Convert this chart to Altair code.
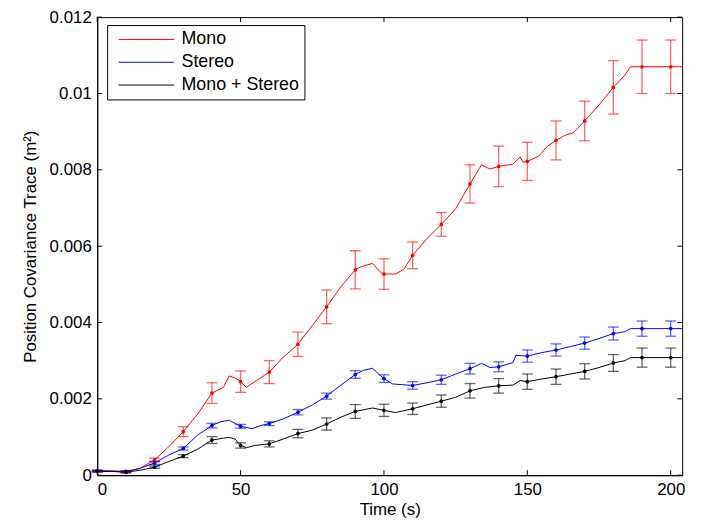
import altair as alt
import pandas as pd

series_names = ["Mono", "Stereo", "Mono + Stereo"]
series_colors = ["#ff0000", "#0000ff", "#000000"]

# error-bar sample times
marker_times = [0, 10, 20, 30, 40, 50, 60, 70, 80, 90, 100, 110, 120, 130, 140, 150, 160, 170, 180, 190, 200]

mono_mean = [0.0001, 0.00008, 0.0004, 0.00114, 0.00215, 0.00245, 0.0027, 0.00343, 0.00441, 0.00538, 0.00527,
             0.00576, 0.00657, 0.00763, 0.00809, 0.00822, 0.00877, 0.00928, 0.01016, 0.0107, 0.0107]
mono_err = [0.00002, 0.00002, 0.00005, 0.00013, 0.00027, 0.00028, 0.0003, 0.00032, 0.00044, 0.0005, 0.0004,
            0.00035, 0.00031, 0.0005, 0.00053, 0.0005, 0.00051, 0.00052, 0.0007, 0.0007, 0.0007]

stereo_mean = [0.00012, 0.0001, 0.00032, 0.0007, 0.0013, 0.00128, 0.00135, 0.00165, 0.00207, 0.00264, 0.00253,
               0.00235, 0.0025, 0.00279, 0.00284, 0.00312, 0.00328, 0.00346, 0.00371, 0.00384, 0.00384]
stereo_err = [0.00002, 0.00002, 0.00004, 0.00004, 0.00006, 0.00005, 0.00005, 0.00007, 0.00008, 0.0001, 0.0001,
              0.0001, 0.00012, 0.00014, 0.00013, 0.00016, 0.00016, 0.00016, 0.00017, 0.0002, 0.0002]

both_mean = [0.0001, 0.00008, 0.00021, 0.0005, 0.00092, 0.00078, 0.00082, 0.00109, 0.00134, 0.00167, 0.0017,
             0.00174, 0.00194, 0.00221, 0.00234, 0.00245, 0.00258, 0.00272, 0.00294, 0.00308, 0.00308]
both_err = [0.00002, 0.00002, 0.00003, 0.00004, 0.00009, 0.00007, 0.00008, 0.00011, 0.00016, 0.00018, 0.00016,
            0.00015, 0.00016, 0.00019, 0.00019, 0.0002, 0.0002, 0.0002, 0.00022, 0.00025, 0.00025]

# continuous traces
mono_t = [0, 5, 10, 15, 20, 25, 30, 35, 40, 44, 46, 48, 50, 52, 55, 60, 65, 70, 75, 80, 85, 90, 92, 96, 99, 100,
          104, 107, 110, 115, 120, 125, 130, 134, 137, 140, 145, 147.5, 148.5, 150, 154, 157, 160, 163, 166, 170,
          175, 180, 184, 186, 190, 200, 204]
mono_v = [0.0001, 0.0001, 0.00008, 0.00018, 0.0004, 0.00075, 0.00114, 0.0016, 0.00215, 0.0023, 0.0026, 0.00255,
          0.00245, 0.0023, 0.00245, 0.0027, 0.0031, 0.00343, 0.00392, 0.00441, 0.00494, 0.00538, 0.00546, 0.00555,
          0.0053, 0.00527, 0.00527, 0.0054, 0.00576, 0.0062, 0.00657, 0.00698, 0.00763, 0.00813, 0.00802, 0.00809,
          0.00815, 0.00834, 0.0082, 0.00822, 0.00836, 0.00862, 0.00877, 0.0089, 0.00897, 0.00928, 0.0097, 0.01016,
          0.01048, 0.0107, 0.0107, 0.0107, 0.0107]

stereo_t = [0, 5, 10, 15, 20, 25, 30, 35, 40, 43, 46, 50, 54, 57, 60, 65, 70, 75, 80, 85, 90, 93, 96, 98, 100,
            103, 110, 115, 120, 125, 130, 134, 137, 140, 145, 146, 150, 155, 160, 165, 170, 175, 180, 184, 186, 204]
stereo_v = [0.00012, 0.00011, 0.0001, 0.00018, 0.00032, 0.00053, 0.0007, 0.00105, 0.0013, 0.0014, 0.00144,
            0.00128, 0.00122, 0.0013, 0.00135, 0.00148, 0.00165, 0.00184, 0.00207, 0.00236, 0.00264, 0.00275,
            0.0028, 0.00266, 0.00253, 0.00239, 0.00235, 0.00242, 0.0025, 0.00265, 0.00279, 0.00293, 0.00282,
            0.00284, 0.00295, 0.00314, 0.00312, 0.00321, 0.00328, 0.00337, 0.00346, 0.00358, 0.00371, 0.00376,
            0.00384, 0.00384]

both_t = [0, 5, 10, 15, 20, 25, 30, 35, 40, 44, 46, 48, 50, 52, 55, 60, 65, 70, 75, 80, 85, 90, 96, 100, 104,
          110, 115, 120, 125, 130, 135, 140, 145, 147.5, 150, 155, 160, 165, 170, 175, 180, 184, 186, 204]
both_v = [0.0001, 0.0001, 0.00008, 0.00013, 0.00021, 0.00036, 0.0005, 0.00068, 0.00092, 0.00097, 0.00099,
          0.00095, 0.00078, 0.00072, 0.00078, 0.00082, 0.00095, 0.00109, 0.00118, 0.00134, 0.00152, 0.00167,
          0.00176, 0.0017, 0.00164, 0.00174, 0.00184, 0.00194, 0.00204, 0.00221, 0.0023, 0.00234, 0.00236,
          0.00248, 0.00245, 0.00252, 0.00258, 0.00265, 0.00272, 0.00282, 0.00294, 0.003, 0.00308, 0.00308]

x_tick_values = [0, 50, 100, 150, 200]
y_tick_values = [0, 0.002, 0.004, 0.006, 0.008, 0.01, 0.012]

# ---- build tables ----
line_rows = []
for name, ts, vs in zip(series_names, [mono_t, stereo_t, both_t], [mono_v, stereo_v, both_v]):
    for t, v in zip(ts, vs):
        line_rows.append({"series": name, "t": t, "v": v})
lines_df = pd.DataFrame(line_rows)

pt_rows = []
for name, ms, es in zip(series_names, [mono_mean, stereo_mean, both_mean], [mono_err, stereo_err, both_err]):
    for t, m, e in zip(marker_times, ms, es):
        pt_rows.append({"series": name, "t": t, "v": m, "lo": m - e, "hi": m + e})
pts_df = pd.DataFrame(pt_rows)

W, H = 590, 462
FONT = "Liberation Sans"

xscale = alt.Scale(domain=[0, 204], nice=False, zero=False)
yscale = alt.Scale(domain=[0, 0.012], nice=False)
cscale = alt.Scale(domain=series_names, range=series_colors)

x_enc = alt.X("t:Q", scale=xscale,
              axis=alt.Axis(title="Time (s)", values=x_tick_values, ticks=False, grid=False,
                            labelPadding=6, titlePadding=5))
y_enc = alt.Y("v:Q", scale=yscale,
              axis=alt.Axis(title="Position Covariance Trace (m²)", values=y_tick_values, format="~g",
                            ticks=False, grid=False, labelPadding=6, titlePadding=10))

lines = alt.Chart(lines_df).mark_line(strokeWidth=1).encode(
    x=x_enc, y=y_enc,
    color=alt.Color("series:N", scale=cscale, sort=series_names,
                    legend=alt.Legend(title=None, orient="none", legendX=10, legendY=8,
                                      strokeColor="black", fillColor="white", padding=5,
                                      labelFontSize=18, labelFont=FONT, labelColor="black",
                                      symbolType="M-3.1,0H3.1", symbolSize=324, symbolStrokeWidth=1,
                                      symbolOffset=25, labelOffset=26, rowPadding=4)),
    order="t:Q",
)

base_pts = alt.Chart(pts_df)
color_nl = alt.Color("series:N", scale=cscale, legend=None)

bars = base_pts.mark_rule(strokeWidth=1.3, opacity=0.6).encode(
    x="t:Q", y=alt.Y("lo:Q", scale=yscale), y2="hi:Q", color=color_nl)
caps_lo = base_pts.mark_tick(orient="horizontal", size=11, thickness=1.3, opacity=0.6).encode(
    x="t:Q", y=alt.Y("lo:Q", scale=yscale), color=color_nl)
caps_hi = base_pts.mark_tick(orient="horizontal", size=11, thickness=1.3, opacity=0.6).encode(
    x="t:Q", y=alt.Y("hi:Q", scale=yscale), color=color_nl)
dots = base_pts.mark_point(filled=True, size=14, opacity=1).encode(
    x="t:Q", y=alt.Y("v:Q", scale=yscale), color=color_nl)

xt_df = pd.DataFrame({"t": x_tick_values})
yt_df = pd.DataFrame({"v": y_tick_values})
tick_bottom = alt.Chart(xt_df).mark_rule(color="black", strokeWidth=1).encode(
    x="t:Q", y=alt.value(H), y2=alt.value(H - 5))
tick_top = alt.Chart(xt_df).mark_rule(color="black", strokeWidth=1).encode(
    x="t:Q", y=alt.value(0), y2=alt.value(5))
tick_left = alt.Chart(yt_df).mark_rule(color="black", strokeWidth=1).encode(
    y=alt.Y("v:Q", scale=yscale), x=alt.value(0), x2=alt.value(5))
tick_right = alt.Chart(yt_df).mark_rule(color="black", strokeWidth=1).encode(
    y=alt.Y("v:Q", scale=yscale), x=alt.value(W), x2=alt.value(W - 5))

chart = alt.layer(
    lines, bars, caps_lo, caps_hi, dots, tick_bottom, tick_top, tick_left, tick_right
).properties(
    width=W, height=H,
    background="white",
    padding={"left": 90, "top": 7, "right": 20, "bottom": 45},
    autosize=alt.AutoSizeParams(type="none"),
).configure_view(
    stroke="black", strokeWidth=1
).configure_axis(
    domainColor="black", labelColor="black", titleColor="black",
    labelFont=FONT, titleFont=FONT, labelFontSize=17, titleFontSize=17, titleFontWeight="normal",
)

chart.save("out.html", embed_options={"renderer": "svg", "actions": False})
